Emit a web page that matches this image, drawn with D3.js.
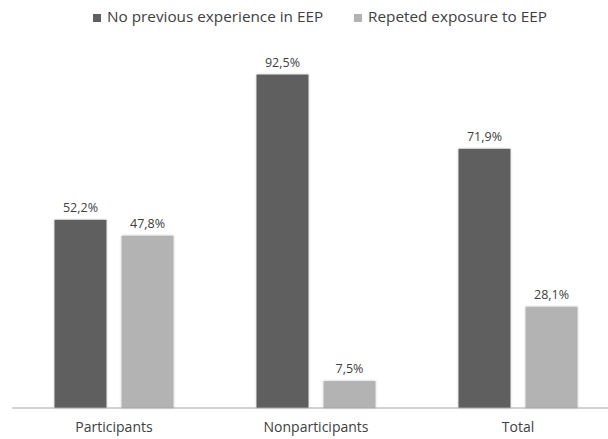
<!DOCTYPE html>
<html>
<head>
<meta charset="utf-8">
<script src="https://cdn.jsdelivr.net/npm/d3@7"></script>
<style>
  body { margin: 0; background: #fff; }
  text { font-family: "Open Sans", "DejaVu Sans", sans-serif; fill: #404040; }
</style>
</head>
<body>
<script>
// chart data
var categories = ['Participants', 'Nonparticipants', 'Total'];
var series_names = ['No previous experience in EEP', 'Repeted exposure to EEP'];
var no_previous = [52.2, 92.5, 71.9];
var repeated = [47.8, 7.5, 28.1];
var value_labels = [['52,2%', '92,5%', '71,9%'], ['47,8%', '7,5%', '28,1%']];
var colors = ['#5f5f5f', '#b3b3b3'];

var width = 608, height = 439;
var svg = d3.select('body').append('svg').attr('width', width).attr('height', height);

// soft shadow round the bars
var defs = svg.append('defs');
var f = defs.append('filter').attr('id', 'shadow').attr('x', '-10%').attr('y', '-10%').attr('width', '120%').attr('height', '120%');
f.append('feDropShadow').attr('dx', 0).attr('dy', 0).attr('stdDeviation', 1.2)
  .attr('flood-color', '#000').attr('flood-opacity', 0.25);

var base_y = 408;
var x_scale = d3.scaleBand().domain(categories).range([13, 619]).paddingInner(0).paddingOuter(0);
var inner = d3.scaleBand().domain([0, 1]).range([41.5, x_scale.bandwidth() - 41.5]).paddingInner(0.225);
var y_scale = d3.scaleLinear().domain([0, 100]).range([base_y, base_y - 360.5]);

var rows = [];
categories.forEach(function(c, i) {
  rows.push({cat: c, s: 0, v: no_previous[i], label: value_labels[0][i]});
  rows.push({cat: c, s: 1, v: repeated[i], label: value_labels[1][i]});
});

var plot = svg.append('g');
plot.selectAll('rect.bar').data(rows).enter().append('rect')
  .attr('class', 'bar')
  .attr('x', d => x_scale(d.cat) + inner(d.s))
  .attr('y', d => y_scale(d.v))
  .attr('width', inner.bandwidth())
  .attr('height', d => base_y - y_scale(d.v))
  .attr('fill', d => colors[d.s])
  .attr('filter', 'url(#shadow)');

plot.selectAll('text.val').data(rows).enter().append('text')
  .attr('class', 'val')
  .attr('x', d => x_scale(d.cat) + inner(d.s) + inner.bandwidth() / 2)
  .attr('y', d => y_scale(d.v) - 8)
  .attr('text-anchor', 'middle')
  .style('font-size', '12.5px')
  .text(d => d.label);

// axis line + category labels
var x_axis = svg.append('g').attr('transform', 'translate(0,' + base_y + ')')
  .call(d3.axisBottom(x_scale).tickSize(0).tickPadding(14));
x_axis.select('.domain').attr('stroke', '#a6a6a6').attr('stroke-width', 1.2).attr('d', 'M12,0H608');
x_axis.selectAll('text').style('font-size', '14px').style('font-family', '"Open Sans", "DejaVu Sans", sans-serif').attr('fill', '#404040');

// legend
var legend_x = [93, 354];
var legend = svg.append('g').selectAll('g').data(series_names).enter().append('g')
  .attr('transform', (d, i) => 'translate(' + legend_x[i] + ',14)');
legend.append('rect').attr('x', 0).attr('y', 0).attr('width', 8).attr('height', 8)
  .attr('fill', (d, i) => colors[i]);
legend.append('text').attr('x', 14).attr('y', 7.5).style('font-size', '15.3px').text(d => d);
</script>
</body>
</html>
